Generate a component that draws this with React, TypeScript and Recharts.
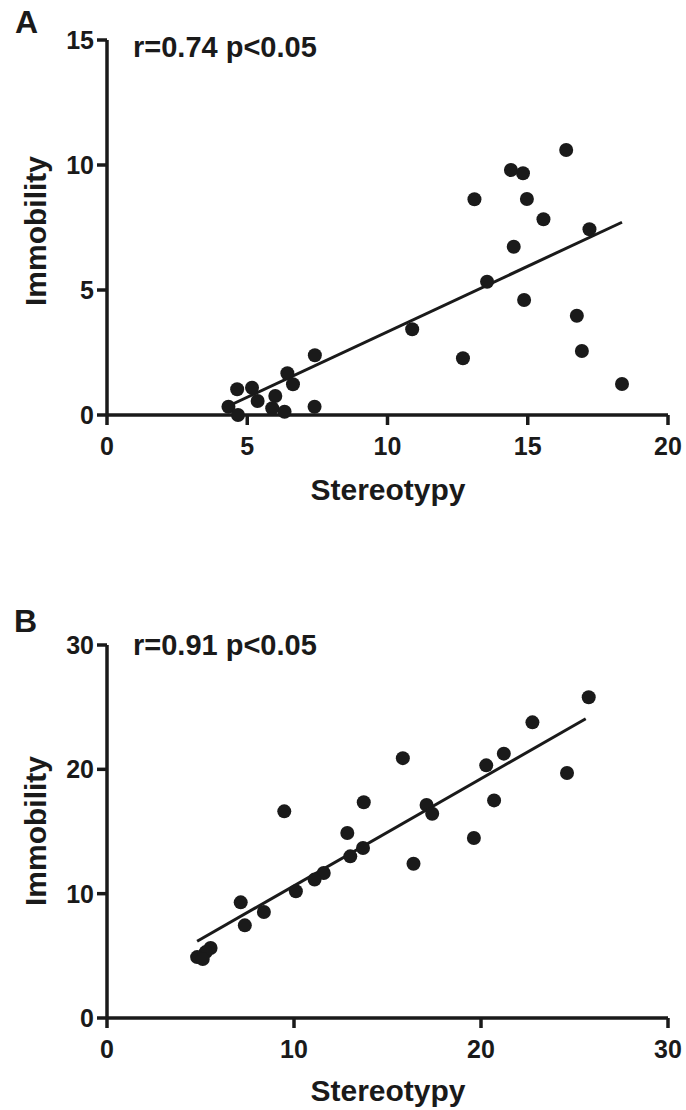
import { ScatterChart, Scatter, XAxis, YAxis, ReferenceLine } from "recharts";

const INK = "#1a1a1a";
const FONT = '"Liberation Sans", Arial, sans-serif';

// panel A
const stereotypyA = [16.37, 14.4, 14.83, 13.1, 14.97, 15.56, 17.2, 14.5, 13.55, 14.87, 16.75, 16.93, 18.36, 10.88, 12.69, 7.41, 6.43, 6.63, 4.64, 5.17, 5.37, 6.0, 4.33, 4.67, 5.89, 6.33, 7.4];
const immobilityA = [10.6, 9.8, 9.67, 8.63, 8.64, 7.83, 7.43, 6.73, 5.33, 4.6, 3.97, 2.56, 1.24, 3.43, 2.27, 2.39, 1.67, 1.23, 1.03, 1.09, 0.56, 0.76, 0.33, 0.0, 0.27, 0.13, 0.33];
const fitXA = [4.33, 18.36];
const fitYA = [0.36, 7.71];
const ticksXA = [0, 5, 10, 15, 20];
const ticksYA = [0, 5, 10, 15];

// panel B
const stereotypyB = [25.76, 22.75, 21.22, 20.28, 15.82, 24.6, 20.7, 13.73, 17.09, 17.39, 9.48, 12.85, 19.62, 13.69, 13.01, 16.39, 11.59, 11.1, 10.1, 7.15, 8.39, 7.37, 5.54, 5.28, 4.82, 5.12];
const immobilityB = [25.8, 23.78, 21.26, 20.32, 20.9, 19.7, 17.5, 17.35, 17.13, 16.43, 16.62, 14.88, 14.48, 13.67, 13.0, 12.41, 11.66, 11.13, 10.19, 9.3, 8.53, 7.45, 5.63, 5.3, 4.9, 4.75];
const fitXB = [4.82, 25.6];
const fitYB = [6.17, 24.07];
const ticksXB = [0, 10, 20, 30];
const ticksYB = [0, 10, 20, 30];

const toPoints = (xs: number[], ys: number[]) => xs.map((x, i) => ({ x, y: ys[i] }));

const Dot = (props: any) => <circle cx={props.cx} cy={props.cy} r={7} fill={INK} />;

const tickStyle = { fontSize: 25, fontWeight: 700, fill: INK, fontFamily: FONT };
const lineStyle = { stroke: INK, strokeWidth: 3.5 };

function Panel({
  xs, ys, fitX, fitY, ticksX, ticksY, top, height, marginTop, xAxisHeight, titleY, yCenter,
}: {
  xs: number[]; ys: number[]; fitX: number[]; fitY: number[];
  ticksX: number[]; ticksY: number[]; top: number; height: number;
  marginTop: number; xAxisHeight: number; titleY: number; yCenter: number;
}) {
  const data = toPoints(xs, ys);
  return (
    <div style={{ position: "absolute", left: 0, top }}>
      <ScatterChart width={686} height={height} margin={{ top: marginTop, right: 18, bottom: 0, left: 0 }}>
        <XAxis
          type="number"
          dataKey="x"
          domain={[0, ticksX[ticksX.length - 1]]}
          ticks={ticksX}
          height={xAxisHeight}
          axisLine={lineStyle}
          tickLine={lineStyle}
          tickSize={10}
          tickMargin={12}
          tick={tickStyle}
          interval={0}
          label={{
            content: () => (
              <text x={388} y={titleY} textAnchor="middle" fontSize={30} fontWeight={700} fill={INK} fontFamily={FONT}>
                Stereotypy
              </text>
            ),
          }}
        />
        <YAxis
          type="number"
          dataKey="y"
          domain={[0, ticksY[ticksY.length - 1]]}
          ticks={ticksY}
          width={107}
          axisLine={lineStyle}
          tickLine={lineStyle}
          tickSize={10}
          tickMargin={3}
          tick={tickStyle}
          interval={0}
          label={{
            content: () => (
              <text
                x={46}
                y={yCenter}
                transform={`rotate(-90 46 ${yCenter})`}
                textAnchor="middle"
                fontSize={30}
                fontWeight={700}
                fill={INK}
                fontFamily={FONT}
              >
                Immobility
              </text>
            ),
          }}
        />
        <ReferenceLine
          segment={[{ x: fitX[0], y: fitY[0] }, { x: fitX[1], y: fitY[1] }]}
          stroke={INK}
          strokeWidth={3}
        />
        <Scatter data={data} shape={Dot} isAnimationActive={false} />
      </ScatterChart>
    </div>
  );
}

const textStyle = (left: number, top: number, size: number) => ({
  position: "absolute" as const,
  left,
  top,
  fontSize: size,
  lineHeight: 1,
  fontWeight: 700,
  color: INK,
  fontFamily: FONT,
  whiteSpace: "nowrap" as const,
});

export default function App() {
  return (
    <div style={{ position: "absolute", left: 0, top: 0, width: 686, height: 1110, background: "#fff", fontFamily: FONT }}>
      <Panel xs={stereotypyA} ys={immobilityA} fitX={fitXA} fitY={fitYA} ticksX={ticksXA} ticksY={ticksYA}
        top={0} height={520} marginTop={40} xAxisHeight={105} titleY={500} yCenter={231} />
      <Panel xs={stereotypyB} ys={immobilityB} fitX={fitXB} fitY={fitYB} ticksX={ticksXB} ticksY={ticksYB}
        top={600} height={510} marginTop={45} xAxisHeight={92} titleY={501} yCenter={231} />
      <div style={textStyle(15, 6, 32)}>A</div>
      <div style={textStyle(133, 33, 29)}>r=0.74 p&lt;0.05</div>
      <div style={textStyle(14, 605, 32)}>B</div>
      <div style={textStyle(133, 631, 29)}>r=0.91 p&lt;0.05</div>
    </div>
  );
}
